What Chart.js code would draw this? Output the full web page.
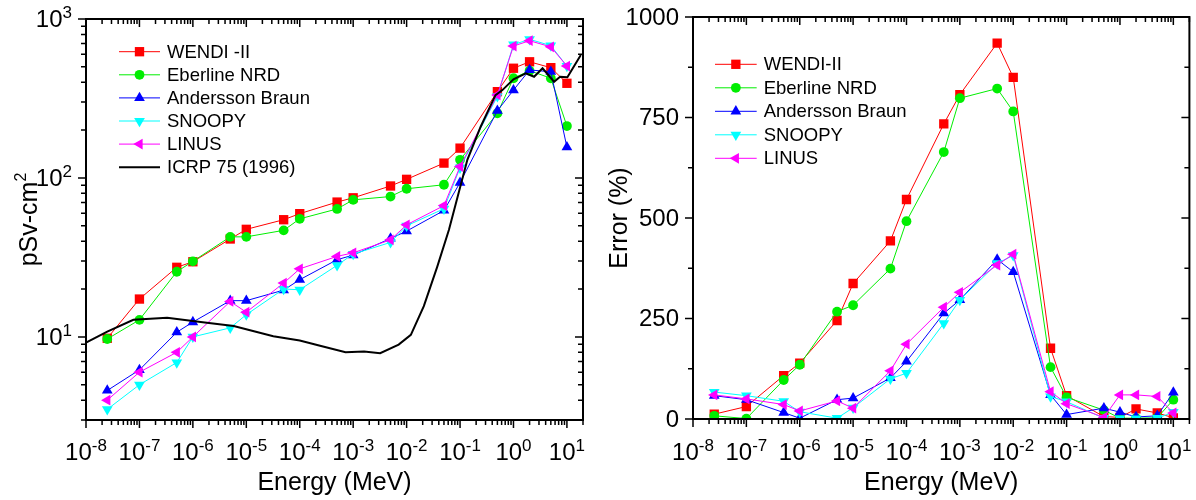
<!DOCTYPE html>
<html>
<head>
<meta charset="utf-8">
<script src="https://cdn.jsdelivr.net/npm/chart.js@4/dist/chart.umd.min.js"></script>
<style>
  body { margin: 0; background: #fff; }
  #wrap { position: relative; width: 1196px; height: 500px; }
  canvas { position: absolute; top: 0; }
</style>
</head>
<body>
<div id="wrap">
  <canvas id="doseChart" width="598" height="500" style="left:0"></canvas>
  <canvas id="errChart" width="598" height="500" style="left:598px"></canvas>
</div>
<script>
// measurement energies (MeV), shared by both panels
const energies = [2.5e-8, 1e-7, 5e-7, 1e-6, 5e-6, 1e-5, 5e-5, 1e-4, 5e-4, 1e-3, 5e-3, 1e-2, 5e-2, 1e-1, 5e-1, 1, 2, 5, 10];

// left panel: response in pSv-cm2
const wendiDose  = [9.8, 17.3, 27.4, 29.7, 41.3, 47.5, 54.6, 59.6, 70.5, 75, 89, 98, 124, 154, 349, 490, 538, 494, 394];
const eberDose   = [9.7, 12.8, 25.7, 29.9, 42.6, 42.6, 46.8, 55.3, 63.8, 72.8, 76.4, 85.5, 90.6, 130, 255, 424, 473, 424, 212];
const andDose    = [4.6, 6.2, 10.7, 12.4, 16.9, 16.9, 19.7, 22.9, 30.6, 32.7, 41.6, 46.3, 62.4, 93.5, 265, 357, 478, 466, 156];
const snoopyDose = [3.5, 5.0, 6.9, 10, 11.4, 13.8, 20, 19.8, 28.2, 33.2, 39.3, 50, 64, 116, 326, 690, 745, 680, 505];
const linusDose  = [4.0, 6.0, 8.0, 10, 16.7, 14.3, 21.8, 26.8, 32.1, 33.8, 40.8, 50.7, 67, 118, 333, 676, 730, 668, 506];

// ICRP 75 (1996) reference curve
const icrpEnergy = [1e-8, 2.5e-8, 7.7e-8, 3.3e-7, 1.4e-6, 5.8e-6, 3.2e-5, 1e-4, 2.4e-4, 7.2e-4, 1.6e-3, 3.2e-3, 7.1e-3, 1.2e-2, 2.1e-2, 3.75e-2, 6.2e-2, 0.137, 0.243, 0.46, 0.62, 1.0, 1.7, 2.43, 3.5, 5.75, 7.45, 10.2, 18.2];
const icrpDose   = [9.2, 10.8, 12.8, 13.2, 12.4, 11.7, 10.1, 9.5, 8.8, 8.0, 8.1, 7.9, 8.95, 10.3, 15.6, 27.7, 47.2, 130, 210, 332, 357, 417, 455, 433, 490, 403, 433, 430, 593];

// right panel: error in %
const wendiErr  = [12, 31, 108, 139, 245, 337, 443, 546, 734, 807, 935, 850, 176, 58, 6, 4, 25, 15, 3];
const eberErr   = [8, 1, 97, 135, 267, 283, 374, 492, 664, 798, 822, 765, 129, 54, 22, 2, 2, 3, 48];
const andErr    = [58, 48, 16, 2, 48, 52, 102, 143, 263, 296, 397, 366, 60, 11, 27, 17, 5, 8, 66];
const snoopyErr = [67, 58, 44, 18, 2, 28, 100, 114, 238, 296, 387, 407, 56, 43, 2, 1, 1, 2, 17];
const linusErr  = [60, 50, 36, 20, 45, 27, 120, 186, 278, 315, 383, 410, 68, 38, 4, 60, 60, 56, 15];

const doseNames = ['WENDI -II', 'Eberline NRD', 'Andersson Braun', 'SNOOPY', 'LINUS', 'ICRP 75 (1996)'];
const errNames  = ['WENDI-II', 'Eberline NRD', 'Andersson Braun', 'SNOOPY', 'LINUS'];

// tick labels
const energyTicks = [1e-8, 1e-7, 1e-6, 1e-5, 1e-4, 1e-3, 1e-2, 1e-1, 1, 10];
const energyExp   = ['-8', '-7', '-6', '-5', '-4', '-3', '-2', '-1', '0', '1'];
const doseTicks   = [10, 100, 1000];
const doseExp     = ['1', '2', '3'];
const errTicks    = [0, 250, 500, 750, 1000];
const errMinor    = [125, 375, 625, 875];

const FONT = "'Liberation Sans', Arial, Helvetica, sans-serif";

const markers = [
    { color: '#ff0000', pointStyle: 'rect', rotation: 0, radius: 6.6 },
    { color: '#00ee00', pointStyle: 'circle', rotation: 0, radius: 4.9 },
    { color: '#0000ff', pointStyle: 'triangle', rotation: 0, radius: 6.2 },
    { color: '#00ffff', pointStyle: 'triangle', rotation: 180, radius: 6.2 },
    { color: '#ff00ff', pointStyle: 'triangle', rotation: -90, radius: 6.2 }
];

const pairs = (xs, ys) => xs.map((x, i) => ({ x: x, y: ys[i] }));

const seriesSet = (names, values) => values.map((vals, i) => ({
    label: names[i],
    data: pairs(energies, vals),
    borderColor: markers[i].color,
    backgroundColor: markers[i].color,
    borderWidth: 1,
    pointStyle: markers[i].pointStyle,
    pointRotation: markers[i].rotation,
    pointRadius: markers[i].radius,
    pointBackgroundColor: markers[i].color,
    pointBorderColor: markers[i].color,
    pointBorderWidth: 0,
    order: 10 - i
}));

function logMinors(min, max) {
    const out = [];
    for (let d = Math.floor(Math.log10(min)); d <= Math.ceil(Math.log10(max)); d++) {
        for (let m = 2; m <= 9; m++) {
            const v = m * Math.pow(10, d);
            if (v >= min * 0.999 && v <= max * 1.001) out.push(v);
        }
    }
    return out;
}

function powLabel(ctx, x, y, exp, align) {
    ctx.font = '24px ' + FONT;
    const w1 = ctx.measureText('10').width;
    ctx.font = '17px ' + FONT;
    const w2 = ctx.measureText(exp).width;
    const x0 = align === 'center' ? x - (w1 + w2) / 2 : x - w1 - w2;
    ctx.textAlign = 'left';
    ctx.textBaseline = 'alphabetic';
    ctx.font = '24px ' + FONT;
    ctx.fillText('10', x0, y);
    ctx.font = '17px ' + FONT;
    ctx.fillText(exp, x0 + w1, y - 9);
}

const originAxes = {
    id: 'originAxes',
    afterDraw(chart, args, o) {
        const { ctx, chartArea: a } = chart;
        const xs = chart.scales.x, ys = chart.scales.y;
        ctx.save();
        ctx.strokeStyle = '#000';
        ctx.fillStyle = '#000';

        // tick marks: outward on left/bottom, inward on top/right
        const xTicks = (vals, len) => {
            ctx.beginPath();
            vals.forEach(v => {
                const p = xs.getPixelForValue(v);
                ctx.moveTo(p, a.bottom); ctx.lineTo(p, a.bottom + len);
                ctx.moveTo(p, a.top); ctx.lineTo(p, a.top + len);
            });
            ctx.stroke();
        };
        const yTicks = (vals, len) => {
            ctx.beginPath();
            vals.forEach(v => {
                const p = ys.getPixelForValue(v);
                ctx.moveTo(a.left, p); ctx.lineTo(a.left - len, p);
                ctx.moveTo(a.right, p); ctx.lineTo(a.right - len, p);
            });
            ctx.stroke();
        };
        ctx.lineWidth = 1.5;
        xTicks(energyTicks, 8);
        xTicks(logMinors(xs.min, xs.max), 5);
        yTicks(o.yMajor, 8);
        yTicks(o.yMinor, 5);

        ctx.lineWidth = 2;
        ctx.strokeRect(a.left, a.top, a.right - a.left, a.bottom - a.top);

        // tick labels
        energyTicks.forEach((v, i) => powLabel(ctx, xs.getPixelForValue(v), 460, energyExp[i], 'center'));
        o.yMajor.forEach((v, i) => {
            const p = ys.getPixelForValue(v);
            if (o.yExp) {
                powLabel(ctx, a.left - 14, p + 8, o.yExp[i], 'right');
            } else {
                ctx.font = '24px ' + FONT;
                ctx.textAlign = 'right';
                ctx.textBaseline = 'middle';
                ctx.fillText(String(v), a.left - 14, p + 1);
            }
        });

        // axis titles
        ctx.font = '25px ' + FONT;
        ctx.textAlign = 'center';
        ctx.textBaseline = 'alphabetic';
        ctx.fillText('Energy (MeV)', (a.left + a.right) / 2, 490);

        ctx.save();
        ctx.translate(o.yTitleX, (a.top + a.bottom) / 2);
        ctx.rotate(-Math.PI / 2);
        ctx.font = '25px ' + FONT;
        const w1 = ctx.measureText(o.yTitle).width;
        ctx.font = '16px ' + FONT;
        const w2 = o.yTitleSup ? ctx.measureText(o.yTitleSup).width : 0;
        ctx.textAlign = 'left';
        ctx.font = '25px ' + FONT;
        ctx.fillText(o.yTitle, -(w1 + w2) / 2, 0);
        if (o.yTitleSup) {
            ctx.font = '16px ' + FONT;
            ctx.fillText(o.yTitleSup, -(w1 + w2) / 2 + w1, -11);
        }
        ctx.restore();

        // legend
        const lg = o.legend;
        chart.data.datasets.forEach((ds, i) => {
            const y = lg.top + i * lg.gap;
            ctx.strokeStyle = ds.borderColor;
            ctx.lineWidth = ds.borderWidth;
            ctx.beginPath();
            ctx.moveTo(lg.x1, y); ctx.lineTo(lg.x2, y);
            ctx.stroke();
            if (ds.pointRadius > 0) {
                ctx.fillStyle = ds.pointBackgroundColor;
                Chart.helpers.drawPoint(ctx, {
                    pointStyle: ds.pointStyle,
                    rotation: ds.pointRotation,
                    radius: ds.pointRadius,
                    borderWidth: 0
                }, (lg.x1 + lg.x2) / 2, y);
            }
            ctx.fillStyle = '#000';
            ctx.font = '18.5px ' + FONT;
            ctx.textAlign = 'left';
            ctx.textBaseline = 'middle';
            ctx.fillText(ds.label, lg.x2 + 7, y + 1);
        });
        ctx.restore();
    }
};

function makeChart(id, datasets, s) {
    return new Chart(document.getElementById(id), {
        type: 'line',
        data: { datasets: datasets },
        options: {
            responsive: false,
            animation: false,
            layout: { padding: { top: s.top, right: s.right, left: 0, bottom: 0 } },
            plugins: { legend: { display: false }, tooltip: { enabled: false }, originAxes: s.axes },
            scales: {
                x: {
                    type: 'logarithmic', min: 1e-8, max: 20,
                    grid: { display: false }, border: { display: false }, ticks: { display: false },
                    afterFit: sc => { sc.height = s.xHeight; }
                },
                y: Object.assign({
                    grid: { display: false }, border: { display: false }, ticks: { display: false },
                    afterFit: sc => { sc.width = s.yWidth; }
                }, s.y)
            }
        },
        plugins: [originAxes]
    });
}

const doseSets = seriesSet(doseNames, [wendiDose, eberDose, andDose, snoopyDose, linusDose]);
doseSets.push({
    label: doseNames[5],
    data: pairs(icrpEnergy, icrpDose),
    borderColor: '#000',
    backgroundColor: '#000',
    borderWidth: 2,
    pointRadius: 0,
    order: 0
});

makeChart('doseChart', doseSets, {
    top: 19, right: 15, xHeight: 80, yWidth: 86,
    y: { type: 'logarithmic', min: 3, max: 1000 },
    axes: {
        yMajor: doseTicks, yExp: doseExp, yMinor: logMinors(3, 1000).filter(v => doseTicks.indexOf(v) < 0),
        yTitle: 'pSv-cm', yTitleSup: '2', yTitleX: 37,
        legend: { top: 51.7, gap: 23.1, x1: 119, x2: 160 }
    }
});

makeChart('errChart', seriesSet(errNames, [wendiErr, eberErr, andErr, snoopyErr, linusErr]), {
    top: 17, right: 4, xHeight: 81, yWidth: 95,
    y: { type: 'linear', min: 0, max: 1000 },
    axes: {
        yMajor: errTicks, yMinor: errMinor,
        yTitle: 'Error (%)', yTitleX: 29,
        legend: { top: 64.3, gap: 23.5, x1: 117, x2: 158.7 }
    }
});
</script>
</body>
</html>
